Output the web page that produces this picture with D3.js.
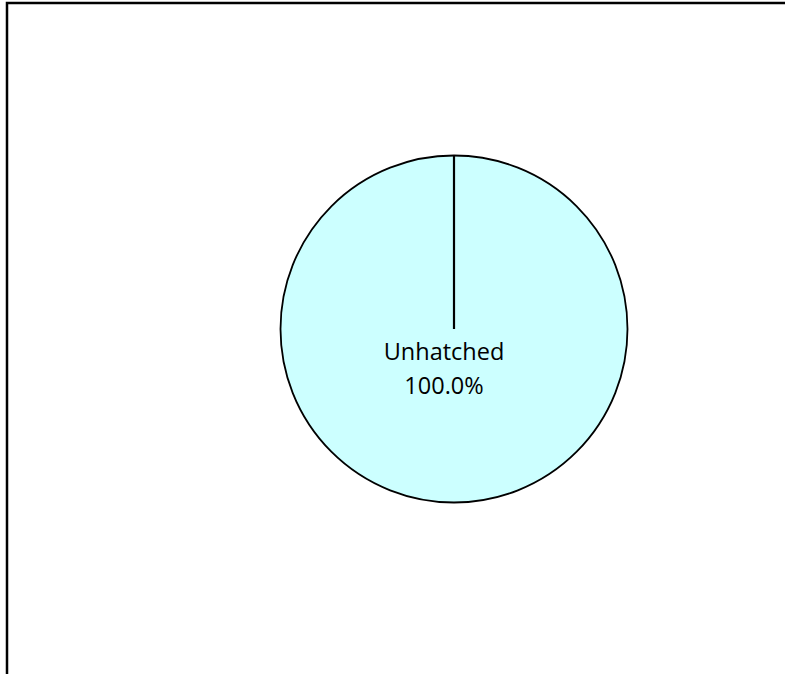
<!DOCTYPE html>
<html>
<head>
<meta charset="utf-8">
<script src="https://cdn.jsdelivr.net/npm/d3@7"></script>
<style>
  html, body { margin: 0; padding: 0; background: #fff; overflow: hidden; }
  svg { display: block; }
</style>
</head>
<body>
<svg id="chart" width="785" height="674"></svg>
<script>
const categories = ['Unhatched'];
const values = [100];
const colors = ['#CCFFFF'];

const width = 785, height = 674;
const cx = 454, cy = 329, radius = 173.5;

const svg = d3.select('#chart');

// outer chart frame (runs off the right and bottom edge)
svg.append('rect')
  .attr('x', 7).attr('y', 3)
  .attr('width', 790).attr('height', 700)
  .attr('fill', 'none')
  .attr('stroke', '#000')
  .attr('stroke-width', 2.5);

const total = d3.sum(values);
const pie = d3.pie().sort(null).value(d => d)(values);

const arc = d3.arc().innerRadius(0).outerRadius(radius);

const g = svg.append('g')
  .attr('transform', `translate(${cx}, ${cy})`);

const slices = g.selectAll('.slice')
  .data(pie)
  .enter()
  .append('g')
  .attr('class', 'slice');

slices.append('path')
  .attr('d', arc)
  .attr('fill', (d, i) => colors[i])
  .attr('stroke', '#000')
  .attr('stroke-width', 1.8);

// slice edge from the centre (a single slice still shows its radial edge)
slices.append('line')
  .attr('x1', 0).attr('y1', 0)
  .attr('x2', d => radius * Math.sin(d.startAngle))
  .attr('y2', d => -radius * Math.cos(d.startAngle))
  .attr('stroke', '#000')
  .attr('stroke-width', 2.2);

// labels
const label = slices.append('text')
  .attr('transform', 'translate(-10, 0)')
  .attr('text-anchor', 'middle')
  .style('font-family', 'Open Sans, sans-serif')
  .style('font-size', '23.5px')
  .style('fill', '#000');

label.append('tspan')
  .attr('x', 0).attr('y', 31)
  .text((d, i) => categories[i]);

label.append('tspan')
  .attr('x', 0).attr('y', 65)
  .text(d => (d.value / total * 100).toFixed(1) + '%');
</script>
</body>
</html>
